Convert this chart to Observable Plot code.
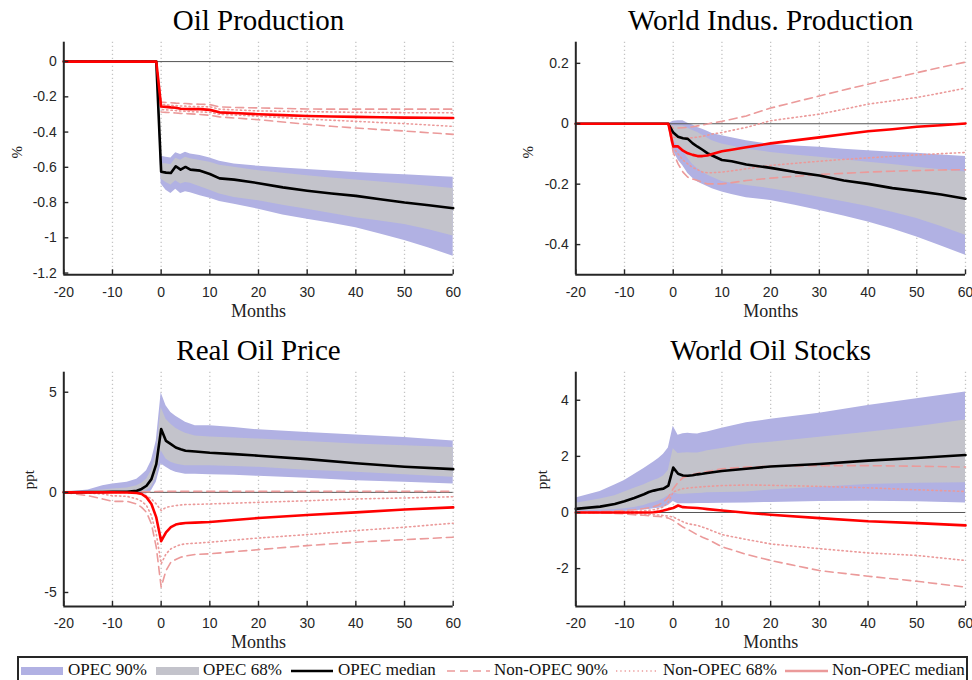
<!DOCTYPE html>
<html><head><meta charset="utf-8">
<script src="https://cdn.jsdelivr.net/npm/d3@7"></script>
<script src="https://cdn.jsdelivr.net/npm/@observablehq/plot@0.6"></script>
<style>
body{margin:0;background:#fff;}
#chart{position:relative;width:972px;height:680px;overflow:hidden;background:#fff;}
.panel{position:absolute;}
#legend{position:absolute;left:17px;top:656px;width:951px;height:34px;border:2px solid #262626;box-sizing:border-box;}
.lg{position:absolute;font-family:'Liberation Serif','Times New Roman',serif;font-size:17px;line-height:17px;color:#111;white-space:nowrap;}
.sw{position:absolute;}
</style></head>
<body><div id="chart"></div>
<script>
// ---------- shared ----------
const xTicks = [-20,-10,0,10,20,30,40,50,60];
const gridTicks = [-10,0,10,20,30,40,50,60];
const titles = ["Oil Production","World Indus. Production","Real Oil Price","World Oil Stocks"];
const yLabels = ["%","%","ppt","ppt"];
const legendLabels = ["OPEC 90%","OPEC 68%","OPEC median","Non-OPEC 90%","Non-OPEC 68%","Non-OPEC median"];

// ---------- Oil Production ----------
const months_prod = [-20,-1,0,1,2,3,4,5,6,8,10,12,15,20,25,30,35,40,45,50,55,60];
const opecMed_prod = [0,0,-0.625,-0.63,-0.632,-0.594,-0.613,-0.598,-0.613,-0.619,-0.638,-0.663,-0.67,-0.69,-0.714,-0.733,-0.749,-0.762,-0.781,-0.80,-0.815,-0.832];
const opecHi90_prod = [0,0,-0.537,-0.543,-0.547,-0.518,-0.528,-0.514,-0.524,-0.533,-0.547,-0.566,-0.581,-0.594,-0.604,-0.613,-0.621,-0.629,-0.636,-0.642,-0.65,-0.657];
const opecLo90_prod = [0,0,-0.695,-0.73,-0.749,-0.724,-0.749,-0.739,-0.745,-0.762,-0.775,-0.794,-0.81,-0.838,-0.87,-0.895,-0.918,-0.943,-0.978,-1.015,-1.058,-1.105];
const opecHi68_prod = [0,0,-0.58,-0.58,-0.585,-0.549,-0.56,-0.543,-0.552,-0.562,-0.571,-0.589,-0.6,-0.619,-0.634,-0.648,-0.66,-0.672,-0.684,-0.695,-0.708,-0.72];
const opecLo68_prod = [0,0,-0.667,-0.686,-0.7,-0.676,-0.695,-0.686,-0.69,-0.71,-0.73,-0.752,-0.771,-0.79,-0.815,-0.838,-0.862,-0.886,-0.905,-0.924,-0.955,-0.99];
const nonMed_prod = [0,0,-0.255,-0.257,-0.26,-0.262,-0.268,-0.269,-0.27,-0.27,-0.274,-0.288,-0.292,-0.299,-0.304,-0.309,-0.312,-0.314,-0.316,-0.318,-0.319,-0.32];
const nonHi90_prod = [0,0,-0.229,-0.232,-0.234,-0.236,-0.237,-0.238,-0.24,-0.242,-0.244,-0.257,-0.26,-0.263,-0.266,-0.269,-0.27,-0.27,-0.27,-0.27,-0.27,-0.27];
const nonLo90_prod = [0,0,-0.286,-0.288,-0.29,-0.292,-0.294,-0.295,-0.297,-0.3,-0.305,-0.314,-0.32,-0.33,-0.343,-0.356,-0.367,-0.377,-0.386,-0.394,-0.404,-0.413];
const nonHi68_prod = [0,0,-0.242,-0.245,-0.248,-0.25,-0.252,-0.253,-0.255,-0.256,-0.257,-0.27,-0.274,-0.28,-0.282,-0.284,-0.286,-0.288,-0.289,-0.29,-0.29,-0.291];
const nonLo68_prod = [0,0,-0.272,-0.274,-0.276,-0.278,-0.28,-0.282,-0.284,-0.286,-0.288,-0.299,-0.303,-0.31,-0.318,-0.326,-0.333,-0.339,-0.346,-0.352,-0.36,-0.368];
const yTicks_prod = [0,-0.2,-0.4,-0.6,-0.8,-1,-1.2];

// ---------- World Indus. Production ----------
const months_ip = [-20,-1,0,1,2,3,4,5,6,7,8,10,12,15,20,25,30,35,40,45,50,55,60];
const opecMed_ip = [0,0,-0.029,-0.043,-0.048,-0.05,-0.065,-0.076,-0.086,-0.097,-0.105,-0.12,-0.124,-0.135,-0.146,-0.16,-0.171,-0.188,-0.199,-0.213,-0.223,-0.234,-0.248];
const opecHi90_ip = [0,0,0.008,0.01,0.01,0.002,-0.004,-0.012,-0.018,-0.025,-0.032,-0.04,-0.046,-0.056,-0.069,-0.074,-0.078,-0.084,-0.089,-0.094,-0.098,-0.103,-0.108];
const opecLo90_ip = [0,0,-0.089,-0.12,-0.14,-0.165,-0.18,-0.193,-0.2,-0.208,-0.215,-0.226,-0.234,-0.245,-0.254,-0.27,-0.287,-0.305,-0.325,-0.348,-0.375,-0.405,-0.435];
const opecHi68_ip = [0,0,-0.007,-0.007,-0.007,-0.015,-0.022,-0.029,-0.038,-0.047,-0.056,-0.067,-0.074,-0.084,-0.095,-0.103,-0.111,-0.119,-0.127,-0.135,-0.144,-0.152,-0.16];
const opecLo68_ip = [0,0,-0.056,-0.075,-0.089,-0.115,-0.135,-0.149,-0.16,-0.17,-0.177,-0.191,-0.197,-0.204,-0.215,-0.228,-0.243,-0.258,-0.274,-0.293,-0.314,-0.34,-0.369];
const nonMed_ip = [0,0,-0.075,-0.075,-0.089,-0.098,-0.103,-0.107,-0.107,-0.105,-0.1,-0.091,-0.086,-0.078,-0.065,-0.055,-0.045,-0.035,-0.025,-0.018,-0.01,-0.005,0.001];
const nonHi90_ip = [0,0,-0.015,-0.014,-0.013,-0.012,-0.01,-0.007,-0.004,-0.001,0.003,0.008,0.015,0.026,0.052,0.072,0.092,0.112,0.131,0.15,0.169,0.187,0.204];
const nonLo90_ip = [0,0,-0.095,-0.133,-0.16,-0.177,-0.183,-0.188,-0.194,-0.199,-0.199,-0.199,-0.195,-0.188,-0.18,-0.174,-0.168,-0.164,-0.16,-0.157,-0.155,-0.153,-0.152];
const nonHi68_ip = [0,0,-0.045,-0.046,-0.047,-0.048,-0.046,-0.044,-0.042,-0.038,-0.034,-0.029,-0.022,-0.012,0.01,0.021,0.032,0.048,0.065,0.076,0.087,0.102,0.118];
const nonLo68_ip = [0,0,-0.078,-0.1,-0.12,-0.133,-0.145,-0.152,-0.16,-0.162,-0.162,-0.16,-0.156,-0.149,-0.138,-0.131,-0.124,-0.118,-0.113,-0.108,-0.103,-0.099,-0.095];
const yTicks_ip = [0.2,0,-0.2,-0.4];

// ---------- Real Oil Price ----------
const months_price = [-20,-15,-12,-10,-7,-5,-4,-3,-2,-1,0,1,2,3,4,5,7,10,15,20,30,40,50,60];
const opecMed_price = [0,0.01,0.02,0.03,0.03,0.08,0.17,0.33,0.66,1.41,3.16,2.57,2.41,2.24,2.15,2.08,2.04,1.98,1.91,1.83,1.66,1.45,1.28,1.16];
const opecHi90_price = [0,0.12,0.33,0.42,0.5,0.66,0.85,1.08,1.58,2.57,4.98,4.32,3.99,3.8,3.65,3.5,3.32,3.32,3.24,3.12,2.99,2.87,2.74,2.57];
const opecLo90_price = [0,-0.01,-0.02,-0.03,-0.05,-0.08,-0.08,-0.08,0.08,0.5,1.41,1.25,1.1,1.0,0.95,0.91,0.9,0.88,0.85,0.8,0.7,0.58,0.5,0.42];
const opecHi68_price = [0,0.05,0.12,0.17,0.22,0.33,0.45,0.66,1.08,1.91,4.24,3.65,3.4,3.2,3.07,2.95,2.82,2.77,2.72,2.66,2.54,2.41,2.33,2.24];
const opecLo68_price = [0,0,0,0,0,0,0.03,0.08,0.25,0.75,2.08,1.66,1.5,1.41,1.37,1.33,1.33,1.33,1.29,1.25,1.11,1.0,0.88,0.75];
const nonMed_price = [0,0,0,0,-0.01,-0.03,-0.08,-0.25,-0.58,-1.25,-2.44,-2.0,-1.74,-1.61,-1.56,-1.53,-1.51,-1.48,-1.38,-1.28,-1.13,-1.0,-0.86,-0.75];
const nonHi90_price = [0,0,0.01,0.01,0.02,0.02,0.03,0.03,0.04,0.04,0.05,0.05,0.05,0.05,0.05,0.05,0.05,0.05,0.05,0.05,0.05,0.05,0.05,0.05];
const nonLo90_price = [0,-0.17,-0.33,-0.45,-0.45,-0.58,-0.75,-1.0,-1.58,-2.74,-4.73,-3.9,-3.49,-3.35,-3.24,-3.18,-3.1,-3.07,-2.96,-2.86,-2.66,-2.49,-2.36,-2.24];
const nonHi68_price = [0,0,0,0,-0.01,-0.03,-0.08,-0.17,-0.33,-0.58,-0.91,-0.75,-0.7,-0.66,-0.63,-0.61,-0.6,-0.58,-0.54,-0.5,-0.42,-0.33,-0.28,-0.22];
const nonLo68_price = [0,-0.03,-0.08,-0.17,-0.2,-0.33,-0.45,-0.66,-1.16,-2.08,-3.57,-3.07,-2.82,-2.7,-2.61,-2.57,-2.54,-2.49,-2.38,-2.28,-2.11,-1.91,-1.74,-1.54];
const yTicks_price = [5,0,-5];

// ---------- World Oil Stocks ----------
const months_stock = [-20,-15,-12,-10,-8,-6,-5,-4,-3,-2,-1,0,1,2,3,4,5,6,7,10,15,20,30,40,50,60];
const opecMed_stock = [0.13,0.21,0.3,0.4,0.52,0.65,0.73,0.78,0.82,0.85,0.96,1.6,1.38,1.32,1.31,1.33,1.36,1.38,1.41,1.48,1.56,1.64,1.73,1.85,1.94,2.05];
const opecHi90_stock = [0.52,0.75,0.98,1.14,1.35,1.57,1.68,1.8,1.92,2.08,2.3,3.07,2.75,2.81,2.82,2.81,2.8,2.84,2.87,3.0,3.2,3.32,3.54,3.81,4.05,4.29];
const opecLo90_stock = [0.01,0.02,0.03,0.04,0.06,0.09,0.11,0.13,0.15,0.18,0.25,0.39,0.31,0.31,0.31,0.31,0.32,0.32,0.32,0.33,0.34,0.36,0.39,0.4,0.38,0.34];
const opecHi68_stock = [0.33,0.48,0.6,0.73,0.86,0.99,1.07,1.14,1.2,1.3,1.5,2.27,2.1,2.12,2.13,2.12,2.12,2.16,2.2,2.28,2.43,2.5,2.68,2.86,3.06,3.3];
const opecLo68_stock = [0.05,0.08,0.11,0.13,0.18,0.25,0.31,0.36,0.41,0.49,0.6,0.7,0.65,0.65,0.66,0.67,0.68,0.69,0.7,0.71,0.73,0.8,0.9,1.0,1.04,1.06];
const nonMed_stock = [0,0,0,0,0,0,0,0.01,0.03,0.07,0.12,0.16,0.25,0.19,0.18,0.17,0.16,0.14,0.12,0.07,-0.01,-0.08,-0.2,-0.31,-0.38,-0.46];
const nonHi90_stock = [0,0.03,0.05,0.07,0.1,0.14,0.17,0.21,0.27,0.38,0.55,0.85,1.08,1.24,1.3,1.35,1.4,1.43,1.46,1.56,1.62,1.65,1.67,1.67,1.65,1.62];
const nonLo90_stock = [0,-0.01,-0.03,-0.05,-0.08,-0.1,-0.11,-0.13,-0.14,-0.16,-0.2,-0.28,-0.4,-0.52,-0.6,-0.7,-0.8,-0.88,-0.95,-1.22,-1.49,-1.71,-2.07,-2.27,-2.45,-2.66];
const nonHi68_stock = [0,0.01,0.02,0.03,0.04,0.06,0.08,0.1,0.14,0.2,0.37,0.73,0.8,0.85,0.87,0.89,0.9,0.92,0.93,0.96,0.98,0.97,0.93,0.88,0.81,0.75];
const nonLo68_stock = [0,-0.01,-0.02,-0.02,-0.04,-0.06,-0.07,-0.08,-0.09,-0.11,-0.13,-0.16,-0.25,-0.33,-0.4,-0.43,-0.46,-0.52,-0.58,-0.79,-0.96,-1.12,-1.29,-1.44,-1.53,-1.71];
const yTicks_stock = [4,2,0,-2];

// ---------- styling ----------
const BLUE = "#b1b1e3", GRAY = "#c3c3cb", PINK = "#eb9a9a", RED = "#ff0000", AX = "#262626";
const SERIF = "'Liberation Serif','Times New Roman',serif";
const SANS = "'Liberation Sans',Arial,Helvetica,sans-serif";

function rowsOf(m, med, hi90, lo90, hi68, lo68, nMed, nHi90, nLo90, nHi68, nLo68) {
  return m.map((x, i) => ({m: x, med: med[i], hi90: hi90[i], lo90: lo90[i], hi68: hi68[i], lo68: lo68[i],
    nMed: nMed[i], nHi90: nHi90[i], nLo90: nLo90[i], nHi68: nHi68[i], nLo68: nLo68[i]}));
}

const panels = [
  {left: 0, top: 0, ml: 63.3, mr: 33.3, mt: 41.7, mb: 45.7, yDomain: [-1.21, 0.11], yTicks: yTicks_prod, ylDx: -47, titleDy: -32.4, monthsDy: 42.4,
   rows: rowsOf(months_prod, opecMed_prod, opecHi90_prod, opecLo90_prod, opecHi68_prod, opecLo68_prod, nonMed_prod, nonHi90_prod, nonLo90_prod, nonHi68_prod, nonLo68_prod)},
  {left: 486, top: 0, ml: 89.3, mr: 7, mt: 41.7, mb: 45.7, yDomain: [-0.5, 0.27], yTicks: yTicks_ip, ylDx: -48, titleDy: -32.4, monthsDy: 42.4,
   rows: rowsOf(months_ip, opecMed_ip, opecHi90_ip, opecLo90_ip, opecHi68_ip, opecLo68_ip, nonMed_ip, nonHi90_ip, nonLo90_ip, nonHi68_ip, nonLo68_ip)},
  {left: 0, top: 330, ml: 63.3, mr: 33.3, mt: 41.7, mb: 44, yDomain: [-5.7, 6], yTicks: yTicks_price, ylDx: -34.7, titleDy: -32.4, monthsDy: 41,
   rows: rowsOf(months_price, opecMed_price, opecHi90_price, opecLo90_price, opecHi68_price, opecLo68_price, nonMed_price, nonHi90_price, nonLo90_price, nonHi68_price, nonLo68_price)},
  {left: 486, top: 330, ml: 89.3, mr: 7, mt: 41.7, mb: 44, yDomain: [-3.35, 5], yTicks: yTicks_stock, ylDx: -34.1, titleDy: -32.4, monthsDy: 41,
   rows: rowsOf(months_stock, opecMed_stock, opecHi90_stock, opecLo90_stock, opecHi68_stock, opecLo68_stock, nonMed_stock, nonHi90_stock, nonLo90_stock, nonHi68_stock, nonLo68_stock)}
];

const chart = document.getElementById("chart");
panels.forEach((p, k) => {
  const W = 486, H = 320;
  const innerW = W - p.ml - p.mr, innerH = H - p.mt - p.mb;
  const svg = Plot.plot({
    width: W, height: H,
    marginLeft: p.ml, marginRight: p.mr, marginTop: p.mt, marginBottom: p.mb,
    x: {domain: [-20, 60], axis: null},
    y: {domain: p.yDomain, axis: null},
    style: {background: "transparent", overflow: "visible"},
    marks: [
      Plot.ruleX(gridTicks, {x: d => d, stroke: "#c4c4c4", strokeWidth: 1.3, strokeDasharray: "1.3,2.7"}),
      Plot.areaY(p.rows, {x: "m", y1: "lo90", y2: "hi90", fill: BLUE}),
      Plot.areaY(p.rows, {x: "m", y1: "lo68", y2: "hi68", fill: GRAY}),
      Plot.ruleY([0], {stroke: "#555", strokeWidth: 1}),
      Plot.lineY(p.rows, {x: "m", y: "nHi90", stroke: PINK, strokeWidth: 1.6, strokeDasharray: "8,5"}),
      Plot.lineY(p.rows, {x: "m", y: "nLo90", stroke: PINK, strokeWidth: 1.6, strokeDasharray: "8,5"}),
      Plot.lineY(p.rows, {x: "m", y: "nHi68", stroke: PINK, strokeWidth: 1.6, strokeDasharray: "1.3,3"}),
      Plot.lineY(p.rows, {x: "m", y: "nLo68", stroke: PINK, strokeWidth: 1.6, strokeDasharray: "1.3,3"}),
      Plot.lineY(p.rows, {x: "m", y: "med", stroke: "#000", strokeWidth: 2.6}),
      Plot.lineY(p.rows, {x: "m", y: "nMed", stroke: RED, strokeWidth: 2.6}),
      // tick labels (drawn at scale positions)
      Plot.text(xTicks, {x: d => d, text: d => String(d), frameAnchor: "bottom", lineAnchor: "top", dy: 12, fontSize: 14, fontFamily: SANS, fill: AX}),
      Plot.text(p.yTicks, {y: d => d, text: d => String(d), frameAnchor: "left", textAnchor: "end", lineAnchor: "middle", dx: -7, fontSize: 14, fontFamily: SANS, fill: AX}),
      // inward ticks
      Plot.tickX(xTicks, {x: d => d, insetTop: innerH - 5, stroke: AX, strokeWidth: 1.4}),
      Plot.tickY(p.yTicks, {y: d => d, insetRight: innerW - 5, stroke: AX, strokeWidth: 1.4}),
      // axis lines
      Plot.ruleX([-20], {stroke: AX, strokeWidth: 2}),
      Plot.ruleY([p.yDomain[0]], {stroke: AX, strokeWidth: 2}),
      Plot.text([titles[k]], {text: d => d, frameAnchor: "top", lineAnchor: "top", dy: p.titleDy, fontSize: 29, fontFamily: SERIF, fill: "#000"}),
      Plot.text(["Months"], {text: d => d, frameAnchor: "bottom", lineAnchor: "bottom", dy: p.monthsDy, fontSize: 18, fontFamily: SERIF, fill: "#222"}),
      Plot.text([yLabels[k]], {text: d => d, frameAnchor: "left", lineAnchor: "middle", dx: p.ylDx, rotate: -90, fontSize: 15, fontFamily: SERIF, fill: "#222"})
    ]
  });
  svg.classList.add("panel");
  svg.style.left = p.left + "px";
  svg.style.top = p.top + "px";
  chart.appendChild(svg);
});

// ---------- legend ----------
const legend = document.createElement("div");
legend.id = "legend";
chart.appendChild(legend);
const swatches = [
  {x: 21, w: 42, kind: "rect", color: BLUE},
  {x: 156, w: 43, kind: "rect", color: GRAY},
  {x: 291, w: 42, kind: "line", color: "#000", width: 2.6, dash: null},
  {x: 447, w: 43, kind: "line", color: PINK, width: 1.6, dash: "8,5"},
  {x: 616, w: 40, kind: "line", color: PINK, width: 1.6, dash: "1.3,3"},
  {x: 785, w: 43, kind: "line", color: PINK, width: 2.6, dash: null}
];
const labelX = [68, 203, 338, 494, 663, 832];
swatches.forEach((s, i) => {
  const ns = "http://www.w3.org/2000/svg";
  const sv = document.createElementNS(ns, "svg");
  sv.setAttribute("width", s.w); sv.setAttribute("height", 10);
  sv.setAttribute("class", "sw");
  sv.style.left = (s.x - 19) + "px"; sv.style.top = "8px";
  if (s.kind === "rect") {
    const r = document.createElementNS(ns, "rect");
    r.setAttribute("x", 0); r.setAttribute("y", 1); r.setAttribute("width", s.w); r.setAttribute("height", 8);
    r.setAttribute("fill", s.color); sv.appendChild(r);
  } else {
    const l = document.createElementNS(ns, "line");
    l.setAttribute("x1", 0); l.setAttribute("x2", s.w); l.setAttribute("y1", 5); l.setAttribute("y2", 5);
    l.setAttribute("stroke", s.color); l.setAttribute("stroke-width", s.width);
    if (s.dash) l.setAttribute("stroke-dasharray", s.dash);
    sv.appendChild(l);
  }
  legend.appendChild(sv);
  const t = document.createElement("div");
  t.className = "lg";
  t.textContent = legendLabels[i];
  t.style.left = (labelX[i] - 19) + "px";
  t.style.top = "3px";
  legend.appendChild(t);
});
</script>
</body></html>
